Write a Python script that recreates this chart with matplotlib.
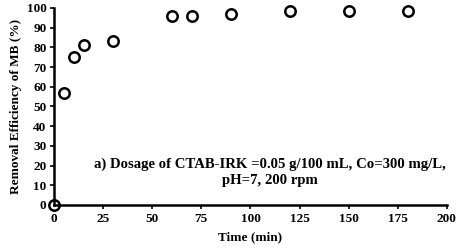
import matplotlib

matplotlib.use("Agg")
import matplotlib.pyplot as plt

time_min = [0, 5, 10, 15, 30, 60, 70, 90, 120, 150, 180]
removal_pct = [0, 57, 75, 81, 83, 96, 96, 97, 98.5, 98.5, 98.5]
x_ticks = [0, 25, 50, 75, 100, 125, 150, 175, 200]
y_ticks = [0, 10, 20, 30, 40, 50, 60, 70, 80, 90, 100]

plt.rcParams["font.family"] = ["Liberation Serif", "DejaVu Serif"]
plt.rcParams["font.weight"] = "bold"

fig = plt.figure(figsize=(4.66, 2.49), dpi=100)
ax = fig.add_axes([0.116, 0.177, 0.843, 0.791])

# markers sit under the spines so the origin point shows the axis cross
ax.plot(time_min, removal_pct, linestyle="none", marker="o", markersize=7.5,
        markerfacecolor="white", markeredgecolor="black", markeredgewidth=1.8,
        clip_on=False, zorder=2)

ax.set_xlim(0, 200)
ax.set_ylim(0, 100)
ax.set_xticks(x_ticks)
ax.set_yticks(y_ticks)
ax.tick_params(labelsize=9.5, width=1.2, length=3, direction="out", pad=2.5)
for lbl in ax.get_xticklabels() + ax.get_yticklabels():
    lbl.set_fontweight("bold")

for side in ("top", "right"):
    ax.spines[side].set_visible(False)
for side in ("left", "bottom"):
    ax.spines[side].set_linewidth(1.8)
    ax.spines[side].set_zorder(3)

ax.set_xlabel("Time (min)", fontsize=9.5, fontweight="bold", labelpad=5)
ax.set_ylabel("Removal Efficiency of MB (%)", fontsize=9.5, fontweight="bold", labelpad=3)

ax.text(110, 16.5, "a) Dosage of CTAB-IRK =0.05 g/100 mL, Co=300 mg/L,\npH=7, 200 rpm",
        ha="center", va="center", fontsize=10.6, fontweight="bold", linespacing=1.25)

fig.savefig("out.png", dpi=100)
